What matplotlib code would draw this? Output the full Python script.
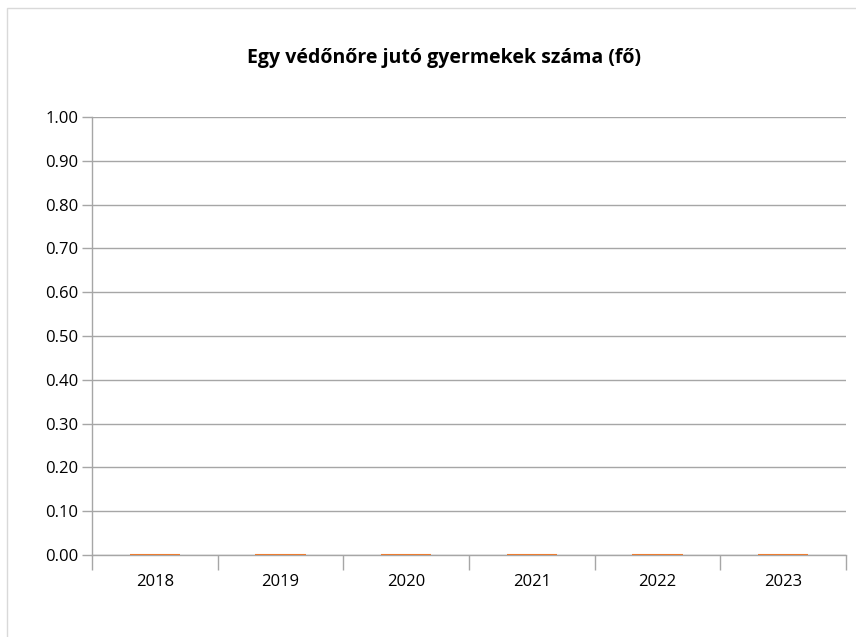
import matplotlib
matplotlib.use("Agg")
import matplotlib.pyplot as plt
from matplotlib.patches import Rectangle

years = ["2018", "2019", "2020", "2021", "2022", "2023"]
values = [0, 0, 0, 0, 0, 0]
yticks = [0.0, 0.1, 0.2, 0.3, 0.4, 0.5, 0.6, 0.7, 0.8, 0.9, 1.0]

plt.rcParams['font.family'] = ['Open Sans', 'DejaVu Sans']

W, H = 856, 637
fig = plt.figure(figsize=(W/100, H/100), dpi=100)
fig.patches.append(Rectangle((7/W, -0.01), 1.0, 1 - 8/H + 0.01, transform=fig.transFigure,
                             fill=False, edgecolor='#D9D9D9', linewidth=1.0))

left, right, top, bottom = 92, 846, 117, 555
ax = fig.add_axes([left/W, 1 - bottom/H, (right-left)/W, (bottom-top)/H])

x = list(range(len(years)))
ax.bar(x, values, width=0.4, color='#ED7D31', edgecolor='#ED7D31', linewidth=1.5, zorder=4)

ax.set_xlim(-0.5, len(years) - 0.5)
ax.set_ylim(0, 1.0)
ax.set_yticks(yticks)
ax.set_yticklabels([f"{v:.2f}" for v in yticks], fontsize=12, color='#000000')
ax.grid(axis='y', color='#A6A6A6', linewidth=1.0, zorder=0)
ax.set_axisbelow(True)

ax.set_xticks([i + 0.5 for i in range(-1, len(years))], minor=False)
ax.set_xticklabels([])
ax.tick_params(axis='x', length=11, color='#A6A6A6', width=1.0)
ax.set_xticks(x, minor=True)
ax.set_xticklabels(years, minor=True, fontsize=12)
ax.tick_params(axis='x', which='minor', length=0, pad=14)
ax.tick_params(axis='y', length=7, color='#A6A6A6', width=1.0, pad=3)

for s in ['top', 'right']:
    ax.spines[s].set_visible(False)
ax.spines['left'].set_color('#A6A6A6')
ax.spines['bottom'].set_color('#A6A6A6')
ax.spines['left'].set_linewidth(1.0)
ax.spines['bottom'].set_linewidth(1.0)

fig.text(444/W, 1 - 58/H, "Egy védőnőre jutó gyermekek száma (fő)", ha='center', va='center',
         fontsize=14, fontweight='bold')

fig.savefig("out.png", dpi=100)
